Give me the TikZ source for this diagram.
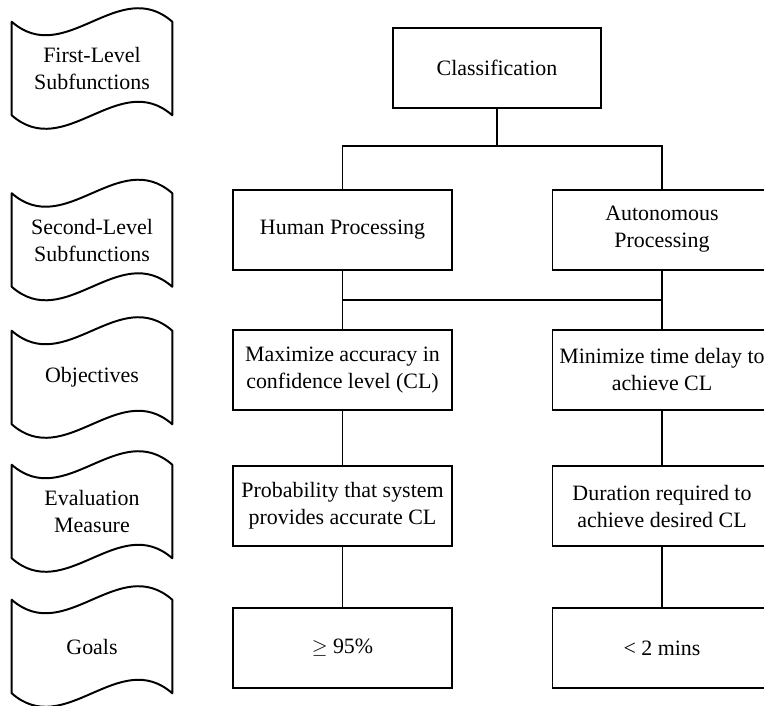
\documentclass[tikz,border=0pt]{standalone}
\usepackage{fontspec}
\setmainfont{Liberation Serif}
\usepackage{tikz}
\usetikzlibrary{positioning,calc}

\begin{document}
\begin{tikzpicture}[
  box/.style={rectangle,draw,line width=1.4pt,minimum width=5.475cm,minimum height=2cm,
              align=center,inner sep=2pt,font=\fontsize{15.6}{19.2}\selectfont},
  tape/.style={rectangle,minimum width=4cm,minimum height=2.325cm,inner sep=0pt,
               align=center,font=\fontsize{15.6}{19.2}\selectfont},
  tapeline/.style={line width=1.4pt,line join=round},
  conn/.style={line width=1.4pt}
]
\useasboundingbox (0,0) rectangle (19.1,-17.625);

% level labels
\node[tape] (first)  at (2.3,-1.7125)  {First-Level\\Subfunctions};
\node[tape] (second) at (2.3,-6.0)     {Second-Level\\Subfunctions};
\node[tape] (obj)    at (2.3,-9.4375)  {Objectives};
\node[tape] (eval)   at (2.3,-12.7875) {Evaluation\\Measure};
\node[tape] (goals)  at (2.3,-16.1625) {Goals};

\foreach \n in {first,second,obj,eval,goals}
  \draw[tapeline] (\n.north west)
    .. controls ($(\n.north west)+(1.333,-1.17)$) and ($(\n.north east)+(-1.333,1.17)$) .. (\n.north east)
    -- (\n.south east)
    .. controls ($(\n.south east)+(-1.333,1.17)$) and ($(\n.south west)+(1.333,-1.17)$) .. (\n.south west)
    -- cycle;

% hierarchy
\node[box,minimum width=5.2cm] (cls) at (12.425,-1.7) {Classification};
\node[box] (human) at (8.5625,-5.74) {Human Processing};
\node[box] (auto)  at (16.55,-5.74)  {Autonomous\\Processing};
\node[box] (maxacc)  at (8.5625,-9.24) {Maximize accuracy in\\confidence level (CL)};
\node[box] (mintime) at (16.55,-9.24)  {Minimize time delay to\\achieve CL};
\node[box] (prob) at (8.5625,-12.65) {Probability that system\\provides accurate CL};
\node[box] (dur)  at (16.55,-12.65)  {Duration required to\\achieve desired CL};
\node[box] (ge)   at (8.5625,-16.2)  {$\geq$ 95\%};
\node[box] (lt)   at (16.55,-16.2)   {< 2 mins};

\coordinate (split) at (12.425,-3.65);
\coordinate (join)  at (12.425,-7.5);

\draw[conn] (cls.south) -- (split);
\draw[conn] (human.north) |- (split) -| (auto.north);
\draw[conn] (human) -- (maxacc);
\draw[conn] (auto) -- (mintime);
\draw[conn] (maxacc.north) |- (join) -| (mintime.north);
\draw[conn] (maxacc) -- (prob);
\draw[conn] (prob) -- (ge);
\draw[conn] (mintime) -- (dur);
\draw[conn] (dur) -- (lt);
\end{tikzpicture}
\end{document}
